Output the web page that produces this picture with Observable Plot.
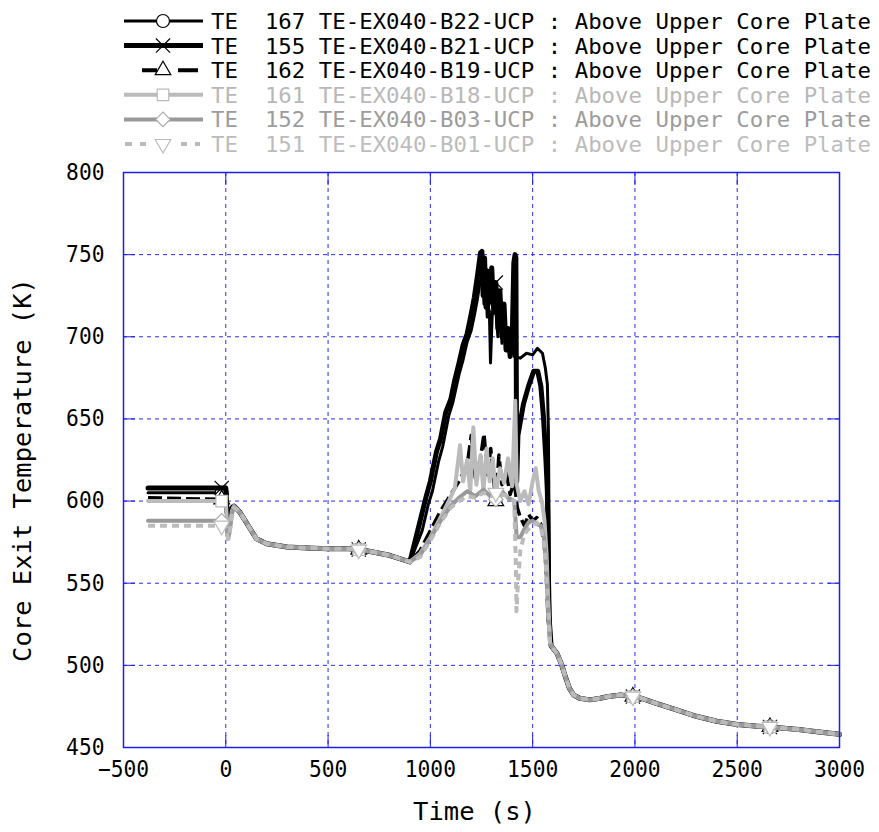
<!DOCTYPE html>
<html><head><meta charset="utf-8">
<script src="https://cdn.jsdelivr.net/npm/d3@7"></script>
<script src="https://cdn.jsdelivr.net/npm/@observablehq/plot@0.6"></script>
<style>body{margin:0;background:#fff} svg{display:block}</style>
</head><body><div id="legend"></div><div id="chart"></div>
<script>
// ---------- DATA ----------
const xTicks = [-500, 0, 500, 1000, 1500, 2000, 2500, 3000];
const yTicks = [450, 500, 550, 600, 650, 700, 750, 800];
const markerTimes = [-20, 650, 1320, 1990, 2660];

const seriesIds = ["167", "155", "162", "161", "152", "151"];
const seriesTags = ["TE-EX040-B22-UCP", "TE-EX040-B21-UCP", "TE-EX040-B19-UCP",
                    "TE-EX040-B18-UCP", "TE-EX040-B03-UCP", "TE-EX040-B01-UCP"];
const seriesPlace = "Above Upper Core Plate";

// initial period (per series)
const headTime = [-380, -20, 0, 6, 12, 20, 30, 40, 55, 70, 90];
const head167 = [605, 605, 605, 592, 590, 592, 596, 597, 595, 593, 589];
const head155 = [608, 608, 608, 593, 591, 593, 596, 597, 595, 593, 589];
const head162 = [602, 601, 601, 590, 586, 589, 595, 597, 595, 593, 589];
const head161 = [600, 600, 600, 588, 581, 585, 594, 597, 595, 593, 589];
const head152 = [588, 588, 587, 582, 577, 582, 592, 597, 595, 593, 589];
const head151 = [585, 585, 584, 580, 577, 582, 592, 596, 595, 593, 589];

// common quasi-steady period
const midTime = [120, 150, 200, 300, 400, 500, 600, 650, 700, 800, 850, 900];
const midTemp = [583, 577, 574, 572, 571.5, 571, 571, 570.5, 569.5, 567, 565, 563];

// heat-up period (per series)
const rise167Time = [960, 990, 1010, 1040, 1060, 1090, 1110, 1140, 1160, 1180, 1200, 1215, 1230, 1245, 1255, 1262, 1270, 1278, 1286, 1294, 1302, 1312, 1320, 1330, 1340, 1350, 1360, 1370, 1378, 1390, 1400, 1410, 1440, 1470, 1500, 1523, 1548, 1562, 1572, 1577, 1583];
const rise167Temp = [582, 598, 606, 624, 633, 652, 660, 677, 686, 697, 704, 713, 723, 735, 745, 720, 738, 712, 730, 684, 712, 726, 718, 700, 722, 696, 712, 692, 700, 690, 694, 688, 687, 690, 689, 693, 690, 681, 671, 643, 540];
const rise155Time = [950, 980, 1000, 1030, 1050, 1075, 1100, 1120, 1140, 1160, 1180, 1200, 1215, 1230, 1245, 1252, 1258, 1265, 1272, 1280, 1290, 1300, 1310, 1320, 1330, 1340, 1350, 1360, 1370, 1380, 1390, 1400, 1408, 1414, 1418, 1422, 1428, 1455, 1480, 1505, 1525, 1540, 1553, 1565, 1572, 1580];
const rise155Temp = [588, 603, 612, 630, 638, 654, 662, 674, 684, 695, 702, 714, 724, 737, 751, 752, 725, 748, 718, 740, 722, 742, 715, 733, 705, 728, 700, 720, 692, 705, 688, 698, 745, 750, 748, 612, 640, 659, 670, 679, 679, 670, 651, 625, 606, 530];
const rise162Time = [950, 1000, 1050, 1100, 1140, 1180, 1200, 1220, 1245, 1262, 1280, 1295, 1320, 1335, 1350, 1370, 1390, 1410, 1425, 1440, 1460, 1480, 1500, 1520, 1540, 1555, 1565, 1575, 1585];
const rise162Temp = [570, 582, 594, 604, 612, 622, 640, 614, 626, 641, 616, 632, 600, 628, 610, 618, 604, 612, 596, 590, 585, 592, 588, 590, 586, 576, 560, 530, 514];
const rise161Time = [950, 1000, 1050, 1090, 1120, 1145, 1160, 1180, 1195, 1210, 1225, 1245, 1260, 1275, 1290, 1305, 1320, 1340, 1360, 1380, 1400, 1415, 1422, 1440, 1460, 1480, 1500, 1515, 1530, 1545, 1558, 1568, 1576, 1585];
const rise161Temp = [568, 578, 590, 600, 608, 634, 612, 625, 606, 645, 610, 628, 606, 632, 612, 626, 604, 620, 611, 626, 609, 661, 610, 600, 606, 598, 612, 620, 606, 600, 588, 568, 540, 514];
const rise152Time = [950, 1000, 1050, 1100, 1140, 1180, 1220, 1260, 1300, 1320, 1350, 1380, 1410, 1422, 1440, 1460, 1480, 1500, 1520, 1540, 1555, 1565, 1575, 1585];
const rise152Temp = [567, 577, 588, 597, 602, 606, 603, 607, 602, 601, 606, 602, 600, 578, 578, 583, 587, 588, 586, 585, 578, 562, 535, 514];
const rise151Time = [950, 1000, 1050, 1100, 1140, 1180, 1220, 1260, 1300, 1320, 1350, 1380, 1410, 1418, 1421, 1428, 1440, 1460, 1480, 1500, 1520, 1540, 1555, 1565, 1575, 1585];
const rise151Temp = [566, 576, 587, 596, 600, 603, 602, 605, 603, 605, 604, 603, 600, 560, 533, 550, 570, 580, 583, 585, 587, 584, 575, 560, 535, 514];

// common cool-down period
const tailTime = [1590, 1620, 1640, 1660, 1680, 1700, 1730, 1780, 1830, 1870, 1930, 1990, 2030, 2100, 2200, 2300, 2400, 2500, 2600, 2660, 2700, 2800, 2900, 3000];
const tailTemp = [512, 507, 501, 493, 486, 482, 480, 479, 480, 481, 482, 481, 480, 477, 473, 469, 466, 464, 463, 462.5, 462, 461, 459.5, 458];

// ---------- STYLES ----------
const triangleDown = {
  draw(context, size) {
    const y = -Math.sqrt(size / (Math.sqrt(3) * 3));
    context.moveTo(0, -y * 2);
    context.lineTo(-Math.sqrt(3) * y, y);
    context.lineTo(Math.sqrt(3) * y, y);
    context.closePath();
  }
};
const styles = [
  {color: "#000", width: 3, dash: null, cap: "round", symbol: d3.symbolCircle, r: 6.5, mStroke: "#000", text: "#000", lw: 3, lx: [124, 203], ldash: null},
  {color: "#000", width: 5, dash: null, cap: "round", symbol: d3.symbolTimes, r: 6.5, mStroke: "#000", text: "#000", lw: 5, lx: [124, 203], ldash: null},
  {color: "#000", width: 3.5, dash: "14,5", cap: "butt", symbol: d3.symbolTriangle, r: 5.8, mStroke: "#000", text: "#000", lw: 4, lx: [142, 198], ldash: "15,21,20"},
  {color: "#bbb", width: 4, dash: null, cap: "round", symbol: d3.symbolSquare, r: 6.5, mStroke: "#bbb", text: "#b8b8b8", lw: 4, lx: [124, 203], ldash: null},
  {color: "#999", width: 4, dash: null, cap: "round", symbol: d3.symbolDiamond2, r: 6.5, mStroke: "#aaa", text: "#9c9c9c", lw: 4, lx: [124, 203], ldash: null},
  {color: "#bbb", width: 4, dash: "7,5", cap: "butt", symbol: triangleDown, r: 5.8, mStroke: "#bbb", text: "#bcbcbc", lw: 4, lx: [125, 200], ldash: "7,8,6,35,6,8,7"}
];
const heads = [head167, head155, head162, head161, head152, head151];
const riseTimes = [rise167Time, rise155Time, rise162Time, rise161Time, rise152Time, rise151Time];
const riseTemps = [rise167Temp, rise155Temp, rise162Temp, rise161Temp, rise152Temp, rise151Temp];

const series = seriesIds.map((id, i) => {
  const rows = [];
  headTime.forEach((t, j) => rows.push({t, T: heads[i][j]}));
  midTime.forEach((t, j) => rows.push({t, T: midTemp[j]}));
  riseTimes[i].forEach((t, j) => rows.push({t, T: riseTemps[i][j]}));
  tailTime.forEach((t, j) => rows.push({t, T: tailTemp[j]}));
  return {id, label: `TE  ${id} ${seriesTags[i]} : ${seriesPlace}`, rows, ...styles[i]};
});

const FONT = "'DejaVu Sans Mono', 'Liberation Mono', monospace";
const frameBlue = "#1c1cf0";
const gridBlue = "#2a2af5";

// ---------- LEGEND ----------
const lg = d3.select("#legend").append("svg").attr("width", 879).attr("height", 160);
series.forEach((s, i) => {
  const y = 21 + 24.6 * i;
  const g = lg.append("g");
  g.append("line").attr("x1", s.lx[0]).attr("x2", s.lx[1]).attr("y1", y).attr("y2", y)
    .attr("stroke", s.color).attr("stroke-width", s.lw)
    .attr("stroke-dasharray", s.ldash).attr("stroke-linecap", "butt");
  g.append("path").attr("transform", `translate(163,${y})`)
    .attr("d", d3.symbol(s.symbol, Math.PI * s.r * s.r)())
    .attr("fill", "white").attr("stroke", s.mStroke).attr("stroke-width", 1.2);
  g.append("text").attr("x", 211).attr("y", y + 8)
    .attr("font-family", FONT).attr("font-size", 22)
    .attr("fill", s.text).style("white-space", "pre")
    .attr("textLength", 660).attr("lengthAdjust", "spacingAndGlyphs")
    .text(s.label);
});

// ---------- CHART ----------
const fmt = d => d < 0 ? "\u2212" + (-d) : String(d);
const marks = [
  Plot.gridX(xTicks, {stroke: gridBlue, strokeOpacity: 1, strokeWidth: 1, strokeDasharray: "4,4"}),
  Plot.gridY(yTicks, {stroke: gridBlue, strokeOpacity: 1, strokeWidth: 1, strokeDasharray: "4,4"})
];
series.forEach(s => {
  marks.push(Plot.line(s.rows, {x: "t", y: "T", stroke: s.color, strokeWidth: s.width,
    strokeDasharray: s.dash, strokeLinecap: s.cap, strokeLinejoin: "round"}));
  marks.push(Plot.dot(s.rows.filter(d => markerTimes.includes(d.t)), {x: "t", y: "T",
    symbol: s.symbol, r: s.r, stroke: s.mStroke, fill: "white", strokeWidth: 1.2}));
});
marks.push(
  Plot.frame({stroke: frameBlue, strokeWidth: 1.5}),
  Plot.axisX(xTicks, {anchor: "bottom", tickSize: -12, fill: "none", stroke: frameBlue, label: null}),
  Plot.axisX(xTicks, {anchor: "top", tickSize: -12, fill: "none", stroke: frameBlue, label: null}),
  Plot.axisY(yTicks, {anchor: "left", tickSize: -12, fill: "none", stroke: frameBlue, label: null}),
  Plot.axisY(yTicks, {anchor: "right", tickSize: -12, fill: "none", stroke: frameBlue, label: null}),
  Plot.axisX(xTicks, {anchor: "bottom", tickSize: 0, tickPadding: 13, tickFormat: fmt, fontSize: 23, fill: "black", label: null}),
  Plot.axisY(yTicks, {anchor: "left", tickSize: 0, tickPadding: 19, tickFormat: fmt, fontSize: 23, fill: "black", label: null}),
  Plot.text(["Time (s)"], {text: d => d, frameAnchor: "bottom", textAnchor: "middle", lineAnchor: "middle", dy: 64, dx: -7, fontSize: 25.5, fill: "black"}),
  Plot.text(["Core Exit Temperature (K)"], {text: d => d, frameAnchor: "left", textAnchor: "middle", lineAnchor: "middle", rotate: -90, dx: -101, dy: 10, fontSize: 25.5, fill: "black"})
);

const chart = Plot.plot({
  width: 879, height: 672,
  marginLeft: 123, marginRight: 40, marginTop: 12, marginBottom: 85,
  x: {domain: [-500, 3000]},
  y: {domain: [450, 800]},
  style: {fontFamily: FONT, fontSize: "23px", background: "white", color: "black", overflow: "visible"},
  marks
});
document.getElementById("chart").appendChild(chart);

d3.select(chart).selectAll('g[aria-label="x-axis tick label"] text, g[aria-label="y-axis tick label"] text').each(function() {
  const n = this.textContent.length;
  this.setAttribute("textLength", n * 12.8);
  this.setAttribute("lengthAdjust", "spacingAndGlyphs");
});
</script>
</body></html>
